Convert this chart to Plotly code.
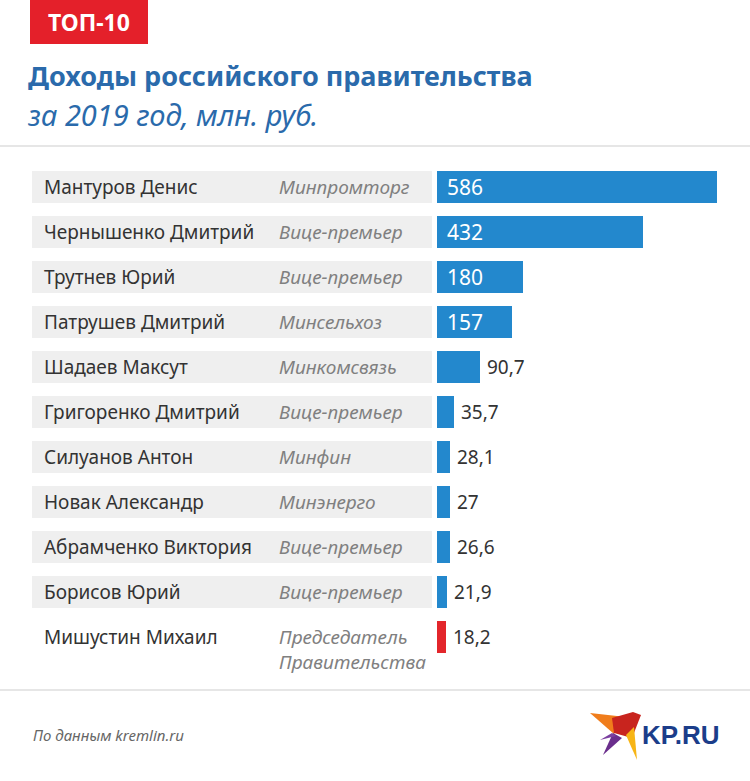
import plotly.graph_objects as go

names = ["Мантуров Денис", "Чернышенко Дмитрий", "Трутнев Юрий", "Патрушев Дмитрий",
         "Шадаев Максут", "Григоренко Дмитрий", "Силуанов Антон", "Новак Александр",
         "Абрамченко Виктория", "Борисов Юрий", "Мишустин Михаил"]
roles = ["Минпромторг", "Вице-премьер", "Вице-премьер", "Минсельхоз", "Минкомсвязь",
         "Вице-премьер", "Минфин", "Минэнерго", "Вице-премьер", "Вице-премьер",
         "Председатель<br>Правительства"]
values = [586, 432, 180, 157, 90.7, 35.7, 28.1, 27, 26.6, 21.9, 18.2]
labels = ["586", "432", "180", "157", "90,7", "35,7", "28,1", "27", "26,6", "21,9", "18,2"]

W, H = 750, 781
FONT = "Noto Sans"
BLUE = "#2388cd"
RED = "#e3262b"
TITLE_BLUE = "#2a6aab"

def px(x):
    return x / W

def py(y):
    return 1 - y / H

# axis geometry: bars start at pixel x=437, 586 ends at x=717
x0_px = 437
scale = (717 - 437) / 586.0
x_max = (W - x0_px) / scale
# rows: centre of row i at pixel 187 + 45*i
row0, step = 187, 45
y_top = (0 - row0) / step
y_bot = (H - row0) / step

idx = list(range(len(values)))
colors = [BLUE] * (len(values) - 1) + [RED]

fig = go.Figure()
fig.add_trace(go.Bar(
    x=values, y=idx, orientation="h", width=0.71,
    marker=dict(color=colors, line=dict(width=0)),
    hoverinfo="skip", showlegend=False,
))

shapes = []
annotations = []

# gray row backgrounds
for i in idx[:-1]:
    shapes.append(dict(type="rect", xref="paper", yref="y",
                       x0=px(32), x1=px(432), y0=i - 0.355, y1=i + 0.355,
                       fillcolor="#efefef", line=dict(width=0), layer="below"))

for i, (n, r, v, lab) in enumerate(zip(names, roles, values, labels)):
    annotations.append(dict(xref="paper", yref="y", x=px(42), y=i, text=n,
                            showarrow=False, xanchor="left", yanchor="middle",
                            font=dict(family=FONT, size=19, color="#333333")))
    last = i == len(values) - 1
    annotations.append(dict(xref="paper", yref="y", x=px(277), y=i,
                            yshift=-12 if last else 0,
                            text="<i>" + r + "</i>", showarrow=False,
                            xanchor="left", yanchor="middle", align="left",
                            font=dict(family=FONT, size=19, color="#808080")))
    if v > 120:
        annotations.append(dict(xref="x", yref="y", x=0, y=i, xshift=8, text=lab,
                                showarrow=False, xanchor="left", yanchor="middle",
                                font=dict(family=FONT, size=21, color="white")))
    else:
        annotations.append(dict(xref="x", yref="y", x=v, y=i, xshift=5, text=lab,
                                showarrow=False, xanchor="left", yanchor="middle",
                                font=dict(family=FONT, size=19, color="#333333")))

# header
shapes.append(dict(type="rect", xref="paper", yref="paper", x0=px(30), x1=px(148),
                   y0=py(44), y1=py(0), fillcolor="#e4202a", line=dict(width=0)))
annotations.append(dict(xref="paper", yref="paper", x=px(89), y=py(22), text="<b>ТОП-10</b>",
                        showarrow=False, xanchor="center", yanchor="middle",
                        font=dict(family=FONT, size=23, color="white")))
annotations.append(dict(xref="paper", yref="paper", x=px(26), y=py(75),
                        text="<b>Доходы российского правительства</b>",
                        showarrow=False, xanchor="left", yanchor="middle",
                        font=dict(family=FONT, size=27, color=TITLE_BLUE)))
annotations.append(dict(xref="paper", yref="paper", x=px(26), y=py(114),
                        text="<i>за 2019 год, млн. руб.</i>",
                        showarrow=False, xanchor="left", yanchor="middle",
                        font=dict(family=FONT, size=29, color=TITLE_BLUE)))

# separators
for yy in (146, 690):
    shapes.append(dict(type="line", xref="paper", yref="paper", x0=0, x1=1,
                       y0=py(yy), y1=py(yy), line=dict(color="#e6e6e6", width=2)))

# footer
annotations.append(dict(xref="paper", yref="paper", x=px(31), y=py(735),
                        text="<i>По данным kremlin.ru</i>", showarrow=False,
                        xanchor="left", yanchor="middle",
                        font=dict(family=FONT, size=15, color="#666666")))

# logo bird
def path(pts):
    return "M " + " L ".join(f"{px(a):.5f},{py(b):.5f}" for a, b in pts) + " Z"

bird = [
    ([(590, 713), (626, 717), (614, 734)], "#f07d1c"),
    ([(612, 718), (633, 712), (641, 715), (632, 738), (614, 733)], "#c8241e"),
    ([(613, 733), (622, 738), (603, 755)], "#6a2e8c"),
    ([(626, 735), (634, 727), (637, 760)], "#f7b516"),
    ([(600, 740), (612, 733), (616, 736)], "#7b3fa0"),
]
for pts, col in bird:
    shapes.append(dict(type="path", xref="paper", yref="paper", path=path(pts),
                       fillcolor=col, line=dict(width=0)))
annotations.append(dict(xref="paper", yref="paper", x=px(640), y=py(735),
                        text="<b>KP.RU</b>", showarrow=False, xanchor="left",
                        yanchor="middle",
                        font=dict(family="Liberation Sans", size=26,
                                  color="#1b3d8a")))

fig.update_layout(
    width=W, height=H, margin=dict(l=0, r=0, t=0, b=0),
    paper_bgcolor="white", plot_bgcolor="rgba(0,0,0,0)",
    xaxis=dict(domain=[px(x0_px), 1], range=[0, x_max], visible=False, fixedrange=True),
    yaxis=dict(domain=[0, 1], range=[y_bot, y_top], visible=False, fixedrange=True),
    shapes=shapes, annotations=annotations, bargap=0,
    font=dict(family=FONT),
)

fig.write_html("out.html", config={"displayModeBar": False},
               post_script="document.body.style.margin='0px';document.body.style.overflow='hidden';")
